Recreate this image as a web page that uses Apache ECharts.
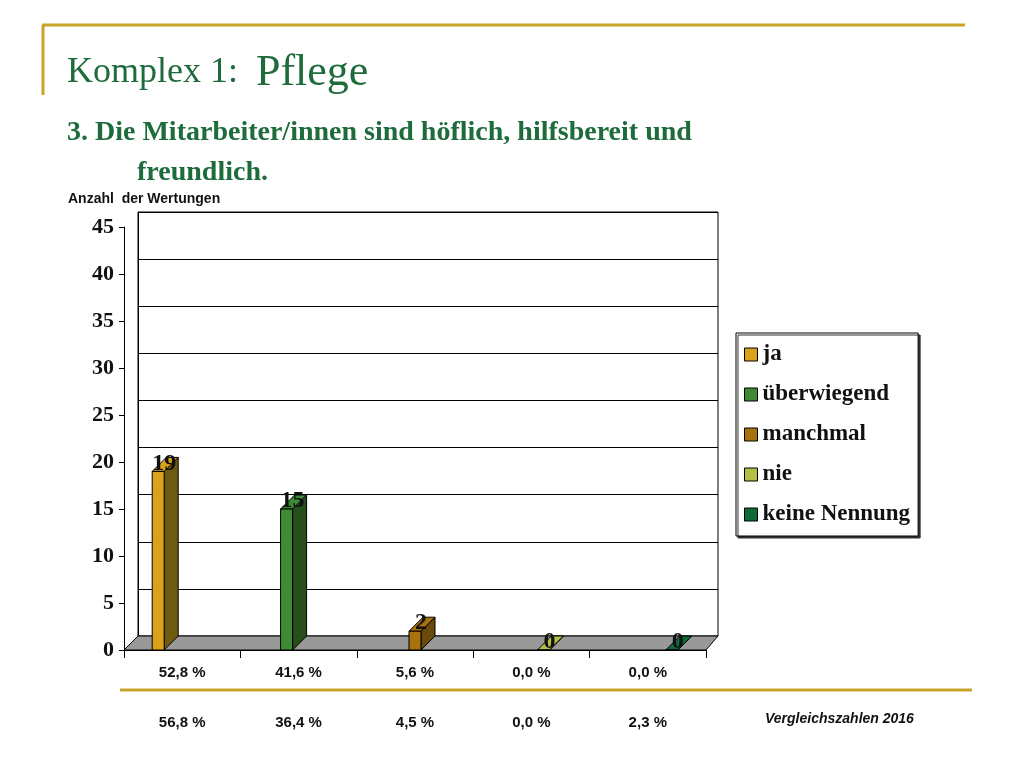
<!DOCTYPE html><html><head><meta charset="utf-8"><script src="https://cdn.jsdelivr.net/npm/echarts@6/dist/echarts.min.js"></script>
<style>body{margin:0;background:#fff}#c{width:1024px;height:768px}</style></head><body><div id="c"></div><script>
const categories=['ja','überwiegend','manchmal','nie','keine Nennung'];
const values=[19,15,2,0,0];
const pct2025=['52,8 %','41,6 %','5,6 %','0,0 %','0,0 %'];
const pct2016=['56,8 %','36,4 %','4,5 %','0,0 %','2,3 %'];
const yTicks=[0,5,10,15,20,25,30,35,40,45];
const colors=['#d9a21a','#3f8a34','#a8720f','#b5bf45','#0f6a3a'];
const sides=['#705a10','#264f1c','#6a4a0a','#7f8a2a','#0a4a28'];
const chart=echarts.init(document.getElementById('c'));
const gold='#c9a42a',green='#1e6b3c';
const series=categories.map((name,i)=>({
 type:'custom',name,xAxisIndex:0,yAxisIndex:0,itemStyle:{color:colors[i]},
 data:[[i,values[i]]],
 renderItem:(p,api)=>{const top=api.coord([api.value(0),api.value(1)]);const base=api.coord([api.value(0),0]);
  const w=12,dx=14,dy=14;const x=top[0]+(i-2)*12-w/2;const t=top[1],b=base[1];
  return {type:'group',children:[
   {type:'polygon',shape:{points:[[x+w,t],[x+w+dx,t-dy],[x+w+dx,b-dy],[x+w,b]]},style:{fill:sides[i],stroke:'#000',lineWidth:1}},
   {type:'polygon',shape:{points:[[x,t],[x+dx,t-dy],[x+w+dx,t-dy],[x+w,t]]},style:{fill:colors[i],stroke:'#000',lineWidth:1}},
   {type:'rect',shape:{x,y:t,width:w,height:b-t},style:{fill:colors[i],stroke:'#000',lineWidth:1}},
   {type:'text',style:{text:String(values[i]),x:x+w/2+6,y:t+4,align:'center',verticalAlign:'bottom',font:'bold 24px "Liberation Serif"',fill:'#111'}}
  ]};}
}));
chart.setOption({
 animation:false,
 title:[{text:'{a|Komplex 1:  }{b|Pflege}',left:62,top:46,textStyle:{fontWeight:'normal',rich:{a:{fontFamily:'Liberation Serif',fontSize:36,color:green,fontWeight:'normal'},b:{fontFamily:'Liberation Serif',fontSize:44,color:green,fontWeight:'normal'}}}},
  {text:'3. Die Mitarbeiter/innen sind höflich, hilfsbereit und\n          freundlich.',left:62,top:108,textStyle:{fontFamily:'Liberation Serif',fontWeight:'bold',fontSize:28,color:green,lineHeight:40}},
  {text:'Anzahl  der Wertungen',left:63,top:187,textStyle:{fontFamily:'Liberation Sans',fontWeight:'bold',fontSize:14,color:'#111'}},
  {text:'Vergleichszahlen 2016',left:760,top:707,textStyle:{fontFamily:'Liberation Sans',fontWeight:'bold',fontStyle:'italic',fontSize:14,color:'#111'}}],
 legend:{orient:'vertical',left:736,top:333,width:229,height:204,padding:[10,8,10,8],itemGap:17,itemWidth:13,itemHeight:13,borderColor:'#000',borderWidth:1,
  shadowColor:'#333',shadowOffsetX:2,shadowOffsetY:2,backgroundColor:'#fff',icon:'rect',
  itemStyle:{borderColor:'#000',borderWidth:1},
  textStyle:{fontFamily:'Liberation Serif',fontWeight:'bold',fontSize:23,color:'#111'},data:categories},
 grid:[{left:124,right:318,top:227,bottom:118},{left:138,right:306,top:212,bottom:132,show:true,borderColor:'#000',borderWidth:1}],
 xAxis:[{type:'category',gridIndex:0,data:categories,axisLine:{lineStyle:{color:'#000'}},axisTick:{show:true,length:8,lineStyle:{color:'#000'}},
  axisLabel:{interval:0,margin:10,lineHeight:25,formatter:(v,i)=>pct2025[i]+'\n\n'+pct2016[i],fontFamily:'Liberation Sans',fontWeight:'bold',fontSize:15,color:'#111'}},
  {type:'category',gridIndex:1,data:categories,show:false}],
 yAxis:[{type:'value',gridIndex:0,min:0,max:45,interval:5,splitLine:{show:false},axisLine:{show:true,lineStyle:{color:'#000'}},axisTick:{show:true,lineStyle:{color:'#000'}},
  axisLabel:{formatter:v=>yTicks.includes(v)?String(v):'',fontFamily:'Liberation Serif',fontWeight:'bold',fontSize:22,color:'#111',margin:10}},
  {type:'value',gridIndex:1,min:0,max:45,interval:5,axisLabel:{show:false},axisLine:{show:true,lineStyle:{color:'#000'}},splitLine:{lineStyle:{color:'#000'}}}],
 graphic:[
  {type:'polygon',z:1,shape:{points:[[124,650],[138,636],[718,636],[706,650]]},style:{fill:'#999',stroke:'#000'}},
  {type:'line',shape:{x1:124,y1:650,x2:138,y2:636},style:{stroke:'#000'}},
  {type:'line',shape:{x1:42,y1:25,x2:965,y2:25},style:{stroke:gold,lineWidth:3}},
  {type:'line',shape:{x1:43,y1:25,x2:43,y2:95},style:{stroke:gold,lineWidth:3}},
  {type:'line',shape:{x1:120,y1:690,x2:972,y2:690},style:{stroke:gold,lineWidth:3}}],
 series
});
</script></body></html>
